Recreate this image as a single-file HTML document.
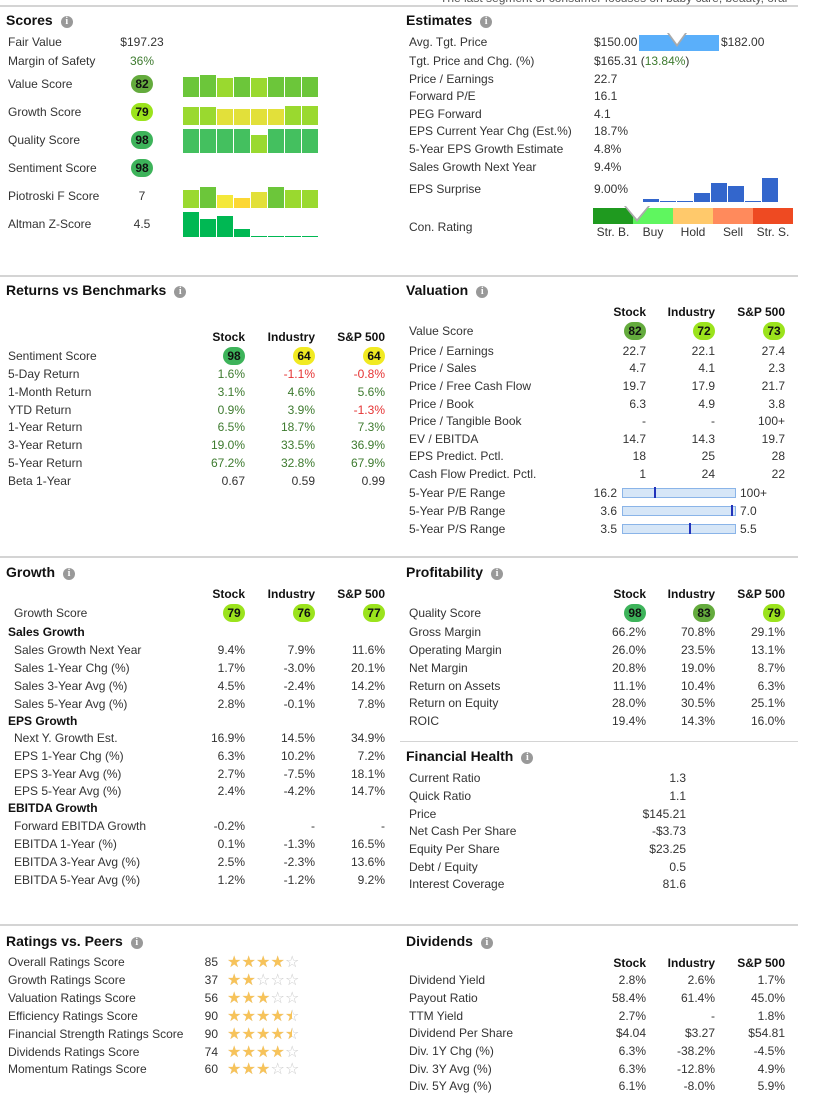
<!DOCTYPE html>
<html><head><meta charset="utf-8">
<style>
html,body{margin:0;padding:0;background:#fff;}
#root{position:relative;width:828px;height:1116px;overflow:hidden;font-family:"Liberation Sans",Arial,sans-serif;font-size:12px;color:#333;}
.t{position:absolute;white-space:nowrap;line-height:14px;}
.h{position:absolute;font-size:14px;font-weight:bold;color:#111;line-height:16px;white-space:nowrap;}
.info{display:inline-block;width:12px;height:12px;border-radius:6px;background:#999;color:#fff;font-size:10px;line-height:12px;text-align:center;margin-left:8px;vertical-align:1px;font-family:"Liberation Serif",serif;font-weight:bold;}
.sep{position:absolute;height:2px;background:#d4d4d4;}
.b{font-weight:bold;color:#111;}
.badge{position:absolute;width:22px;height:18px;border-radius:10px;text-align:center;line-height:18px;font-weight:bold;color:#111;font-size:12px;}
.bar{position:absolute;}
.g{color:#3d7a2e;} .r{color:#e53333;}
</style></head><body>
<div id="root">
<div class="t" style="left:440px;top:-9px;color:#555">The last segment of consumer focuses on baby care, beauty, oral</div>
<div class="sep" style="left:0;top:5px;width:798px"></div>
<div class="sep" style="left:0;top:275px;width:798px"></div>
<div class="sep" style="left:0;top:556px;width:798px"></div>
<div class="sep" style="left:0;top:924px;width:798px"></div>
<div class="sep" style="left:400px;top:741px;width:398px;height:1px"></div>

<div class="h" style="left:6px;top:12px">Scores<span class="info">i</span></div>
<div class="h" style="left:406px;top:12px">Estimates<span class="info">i</span></div>
<div class="h" style="left:6px;top:282px">Returns vs Benchmarks<span class="info">i</span></div>
<div class="h" style="left:406px;top:282px">Valuation<span class="info">i</span></div>
<div class="h" style="left:6px;top:564px">Growth<span class="info">i</span></div>
<div class="h" style="left:406px;top:564px">Profitability<span class="info">i</span></div>
<div class="h" style="left:406px;top:748px">Financial Health<span class="info">i</span></div>
<div class="h" style="left:6px;top:933px">Ratings vs. Peers<span class="info">i</span></div>
<div class="h" style="left:406px;top:933px">Dividends<span class="info">i</span></div>
</div>
<script>
// ---- chart data ----
const valueHist=[80,88,76,80,76,80,80,80];
const growthHist=[72,72,64,64,64,64,76,76];
const qualityHist=[96,96,96,96,72,96,96,96];
const piotroskiHist=[7,8,5,4,6,8,7,7];
const altmanHist=[5,3.6,4.2,1.6,0.2,0.2,0.2,0.2];
const epsSurprise=[1.2,0.2,0.2,3.2,7,6,0.2,9];
const ratingLabels=["Overall Ratings Score","Growth Ratings Score","Valuation Ratings Score","Efficiency Ratings Score","Financial Strength Ratings Score","Dividends Ratings Score","Momentum Ratings Score"];
const ratingScores=[85,37,56,90,90,74,60];
const ratingStars=[4,2,3,4.5,4.5,4,3];
const tgtLow=150, tgtHigh=182, tgtAvg=165.31;
const peRange=[16.2,100,41], pbRange=[3.6,7.0,6.9], psRange=[3.5,5.5,4.7];
const conRating=1.6; // 1=Str.B .. 5=Str.S

const root=document.getElementById('root');
function mk(cls,css,name,inter){
  const el=document.createElement('div');
  el.className=cls; el.style.cssText=css;
  
  
  root.appendChild(el); return el;
}
function txt(x,y,s,name,align,extra){
  const css=(align==='r'?'right:'+(828-x)+'px;':align==='c'?'left:'+(x-40)+'px;width:80px;text-align:center;':'left:'+x+'px;')+'top:'+(y-7)+'px;'+(extra||'');
  const el=mk('t',css,name,false); el.innerHTML=s; return el;
}
function badgeColor(v){return v>=90?'#3db35a':v>=80?'#64ab3d':v>=70?'#9be31c':'#f1ea22';}
function badge(cx,y,v,name){const el=mk('badge','left:'+(cx-11)+'px;top:'+(y-9)+'px;background:'+badgeColor(v),name,false);el.textContent=v;}
function slug(s){return s.toLowerCase().replace(/[^a-z0-9]+/g,'-').replace(/^-|-$/g,'');}

// ---- Scores ----
const scoreRows=[["Fair Value",42,"$197.23"],["Margin of Safety",61,"<span class='g'>36%</span>"],["Value Score",84,82],["Growth Score",112,79],["Quality Score",140,98],["Sentiment Score",168,98],["Piotroski F Score",196,"7"],["Altman Z-Score",224,"4.5"]];
scoreRows.forEach(r=>{txt(8,r[1],r[0],slug(r[0])+'-label');
  if(typeof r[2]==='number') badge(142,r[1],r[2],slug(r[0])+'-badge'); else txt(142,r[1],r[2],slug(r[0])+'-value','c');});
function scoreColor(v){return v>=90?'#44c05f':v>=80?'#6cc63a':v>=70?'#9ad92f':'#e2e03a';}
function pioColor(v){return v>=8?'#6cc63a':v>=7?'#9ad92f':v>=6?'#e2e03a':v>=5?'#f4e83a':'#fcd734';}
const barX=i=>183+i*17, barW=16;
function miniBars(arr,bottom,scale,colorFn,name){
  arr.forEach((v,i)=>{const h=Math.max(1,v*scale);
    const el=mk('bar','left:'+barX(i)+'px;top:'+(bottom-h)+'px;width:'+barW+'px;height:'+h+'px;background:'+colorFn(v),name+'-bar',false);});
}
miniBars(valueHist,97,0.25,scoreColor,'value-score-history');
miniBars(growthHist,125,0.25,scoreColor,'growth-score-history');
miniBars(qualityHist,153,0.25,scoreColor,'quality-score-history');
miniBars(piotroskiHist,208,2.6,pioColor,'piotroski-history');
miniBars(altmanHist,237,5,()=> '#00b853','altman-history');

// ---- Estimates ----
const estRows=[["Avg. Tgt. Price",42,"$150.00"],["Tgt. Price and Chg. (%)",61,"$165.31 (<span class='g'>13.84%</span>)"],["Price / Earnings",79,"22.7"],["Forward P/E",96,"16.1"],["PEG Forward",114,"4.1"],["EPS Current Year Chg (Est.%)",131,"18.7%"],["5-Year EPS Growth Estimate",149,"4.8%"],["Sales Growth Next Year",167,"9.4%"],["EPS Surprise",189,"9.00%"],["Con. Rating",227,""]];
estRows.forEach(r=>{txt(409,r[1],r[0],slug(r[0])+'-label'); if(r[2]) txt(594,r[1],r[2],slug(r[0])+'-value');});
mk('bar','left:639px;top:35px;width:80px;height:16px;background:#5aaffa','target-price-range-bar',false);
txt(721,42,"$182.00",'target-high-value');
const tx=639+(tgtAvg-tgtLow)/(tgtHigh-tgtLow)*80;
mk('bar','left:'+(tx-10)+'px;top:33px;width:0;height:0;border-left:10px solid transparent;border-right:10px solid transparent;border-top:14px solid #aaa','target-price-marker',false);
mk('bar','left:'+(tx-8)+'px;top:33px;width:0;height:0;border-left:8px solid transparent;border-right:8px solid transparent;border-top:11px solid #fff','target-price-marker-fill',false);
epsSurprise.forEach((v,i)=>{const h=Math.max(1,v*2.67);
  mk('bar','left:'+(643+i*17)+'px;top:'+(202-h)+'px;width:16px;height:'+h+'px;background:#3366cc','eps-surprise-bar',false);});
const conCols=['#1f9a1f','#5ff65f','#ffc96b','#ff8a5c','#ee4a22'], conLab=['Str. B.','Buy','Hold','Sell','Str. S.'];
conCols.forEach((c,i)=>{mk('bar','left:'+(593+i*40)+'px;top:208px;width:40px;height:16px;background:'+c,'con-rating-segment',false);
  txt(613+i*40,232,conLab[i],'con-rating-label','c');});
const cx=593+(conRating-0.5)*40;
mk('bar','left:'+(cx-13)+'px;top:206px;width:0;height:0;border-left:13px solid transparent;border-right:13px solid transparent;border-top:16px solid #aaa','con-rating-marker',false);
mk('bar','left:'+(cx-11)+'px;top:206px;width:0;height:0;border-left:11px solid transparent;border-right:11px solid transparent;border-top:13px solid #fff','con-rating-marker-fill',false);

// ---- generic 3-col tables ----
function table(labelX,cols,hdrY,rows,prefix){
  ['Stock','Industry','S&amp;P 500'].forEach((h,i)=>txt(cols[i],hdrY,h,prefix+'-header-'+i,'r','font-weight:bold;color:#111'));
  rows.forEach(r=>{
    if(r.length===2){txt(r[1].x||labelX,r[0],r[1].t,slug(r[1].t)+'-label',null,r[1].bold?'font-weight:bold;color:#111':''); return;}
    txt(r[3]||labelX,r[0],r[1],slug(r[1])+'-label');
    r[2].forEach((v,i)=>{ if(typeof v==='number'){badge(cols[i]-11,r[0],v,slug(r[1])+'-badge');return;}
      let cls=r[4]==='gr'?(v.trim()[0]==='-'?'r':'g'):''; txt(cols[i],r[0],'<span class="'+cls+'">'+v+'</span>',slug(r[1])+'-value','r');});
  });
}
const L=[245,315,385], R=[646,715,785];
table(8,L,337,[[356,"Sentiment Score",[98,64,64]],[374,"5-Day Return",["1.6%","-1.1%","-0.8%"],0,'gr'],[392,"1-Month Return",["3.1%","4.6%","5.6%"],0,'gr'],[410,"YTD Return",["0.9%","3.9%","-1.3%"],0,'gr'],[427,"1-Year Return",["6.5%","18.7%","7.3%"],0,'gr'],[445,"3-Year Return",["19.0%","33.5%","36.9%"],0,'gr'],[463,"5-Year Return",["67.2%","32.8%","67.9%"],0,'gr'],[481,"Beta 1-Year",["0.67","0.59","0.99"]]],'returns');
table(409,R,312,[[331,"Value Score",[82,72,73]],[351,"Price / Earnings",["22.7","22.1","27.4"]],[368,"Price / Sales",["4.7","4.1","2.3"]],[386,"Price / Free Cash Flow",["19.7","17.9","21.7"]],[404,"Price / Book",["6.3","4.9","3.8"]],[421,"Price / Tangible Book",["-","-","100+"]],[439,"EV / EBITDA",["14.7","14.3","19.7"]],[456,"EPS Predict. Pctl.",["18","25","28"]],[474,"Cash Flow Predict. Pctl.",["1","24","22"]]],'valuation');
[["5-Year P/E Range",493,peRange,"100+"],["5-Year P/B Range",511,pbRange,"7.0"],["5-Year P/S Range",529,psRange,"5.5"]].forEach(r=>{
  txt(409,r[1],r[0],slug(r[0])+'-label'); txt(617,r[1],r[2][0].toFixed(1),slug(r[0])+'-low','r'); txt(740,r[1],r[3],slug(r[0])+'-high');
  mk('bar','left:622px;top:'+(r[1]-5)+'px;width:112px;height:8px;background:#d6e6f7;border:1px solid #8ab4e8',slug(r[0])+'-bar',false);
  const mx=622+(r[2][2]-r[2][0])/(r[2][1]-r[2][0])*113;
  mk('bar','left:'+(mx-1)+'px;top:'+(r[1]-6)+'px;width:2px;height:11px;background:#2233bb',slug(r[0])+'-marker',false);
});
table(8,L,594,[[613,"Growth Score",[79,76,77],14],[632,{t:"Sales Growth",bold:1}],[650,"Sales Growth Next Year",["9.4%","7.9%","11.6%"],14],[668,"Sales 1-Year Chg (%)",["1.7%","-3.0%","20.1%"],14],[686,"Sales 3-Year Avg (%)",["4.5%","-2.4%","14.2%"],14],[704,"Sales 5-Year Avg (%)",["2.8%","-0.1%","7.8%"],14],[721,{t:"EPS Growth",bold:1}],[738,"Next Y. Growth Est.",["16.9%","14.5%","34.9%"],14],[756,"EPS 1-Year Chg (%)",["6.3%","10.2%","7.2%"],14],[774,"EPS 3-Year Avg (%)",["2.7%","-7.5%","18.1%"],14],[791,"EPS 5-Year Avg (%)",["2.4%","-4.2%","14.7%"],14],[808,{t:"EBITDA Growth",bold:1}],[826,"Forward EBITDA Growth",["-0.2%","-","-"],14],[844,"EBITDA 1-Year (%)",["0.1%","-1.3%","16.5%"],14],[862,"EBITDA 3-Year Avg (%)",["2.5%","-2.3%","13.6%"],14],[880,"EBITDA 5-Year Avg (%)",["1.2%","-1.2%","9.2%"],14]],'growth');
table(409,R,594,[[613,"Quality Score",[98,83,79]],[632,"Gross Margin",["66.2%","70.8%","29.1%"]],[650,"Operating Margin",["26.0%","23.5%","13.1%"]],[668,"Net Margin",["20.8%","19.0%","8.7%"]],[686,"Return on Assets",["11.1%","10.4%","6.3%"]],[703,"Return on Equity",["28.0%","30.5%","25.1%"]],[721,"ROIC",["19.4%","14.3%","16.0%"]]],'profitability');
[["Current Ratio",778,"1.3"],["Quick Ratio",796,"1.1"],["Price",814,"$145.21"],["Net Cash Per Share",831,"-$3.73"],["Equity Per Share",849,"$23.25"],["Debt / Equity",867,"0.5"],["Interest Coverage",884,"81.6"]].forEach(r=>{txt(409,r[1],r[0],slug(r[0])+'-label');txt(686,r[1],r[2],slug(r[0])+'-value','r');});
table(409,R,963,[[980,"Dividend Yield",["2.8%","2.6%","1.7%"]],[998,"Payout Ratio",["58.4%","61.4%","45.0%"]],[1016,"TTM Yield",["2.7%","-","1.8%"]],[1033,"Dividend Per Share",["$4.04","$3.27","$54.81"]],[1051,"Div. 1Y Chg (%)",["6.3%","-38.2%","-4.5%"]],[1069,"Div. 3Y Avg (%)",["6.3%","-12.8%","4.9%"]],[1086,"Div. 5Y Avg (%)",["6.1%","-8.0%","5.9%"]]],'dividends');

// ---- Ratings ----
ratingLabels.forEach((lab,i)=>{const y=962+i*17.9;
  txt(8,y,lab,slug(lab)+'-label'); txt(218,y,String(ratingScores[i]),slug(lab)+'-value','r');
  for(let k=0;k<5;k++){const f=ratingStars[i]-k;
    const s=mk('t','left:'+(227+k*14.5)+'px;top:'+(y-9)+'px;font-size:16px;line-height:18px;color:#ccc;font-family:"DejaVu Sans",sans-serif','rating-star',false);
    s.textContent='☆';
    if(f>0){const fill=document.createElement('span');fill.style.cssText='position:absolute;left:0;top:0;overflow:hidden;color:#f7c35a;width:'+(f>=1?'100%':'50%');fill.textContent='★';s.appendChild(fill);}
  }
});
</script>
</body></html>
